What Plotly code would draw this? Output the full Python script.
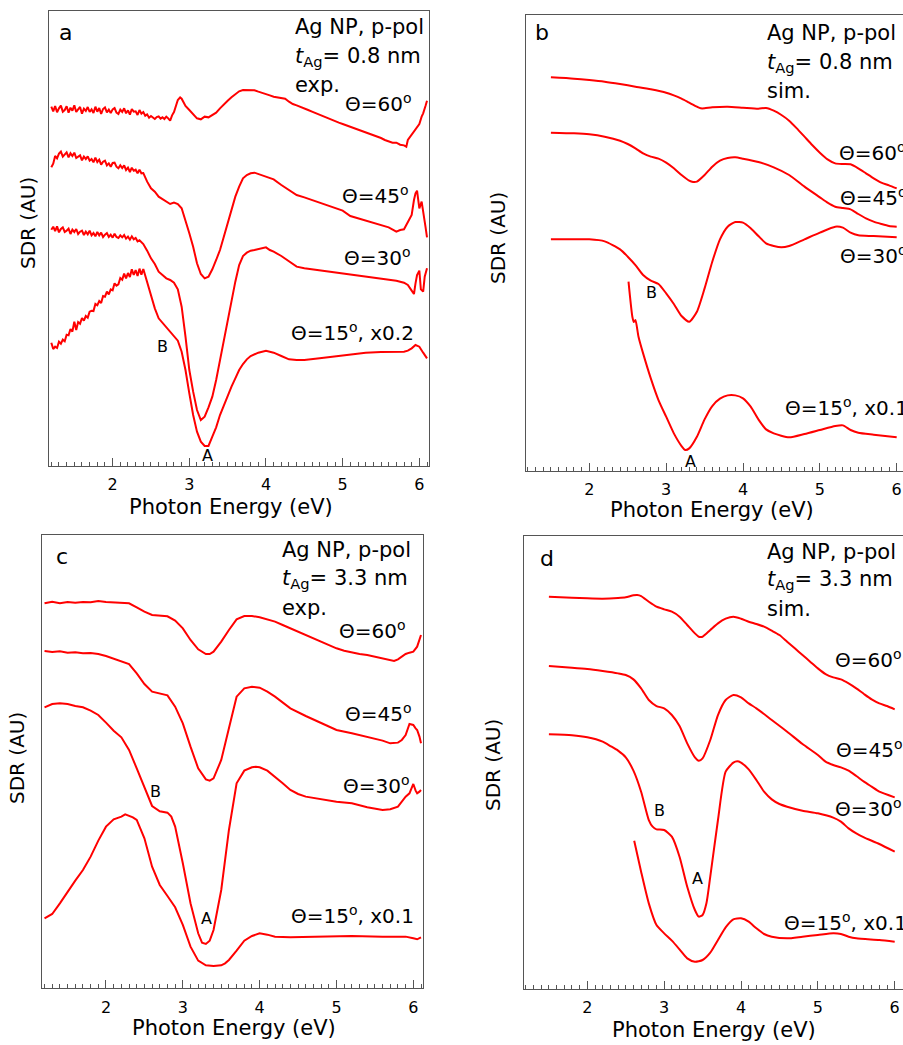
import plotly.graph_objects as go

W, H = 903, 1045
FONT = "DejaVu Sans"
RED = "#ff0000"
AXC = "#555555"

# ---------------- Panel a (exp., t=0.8 nm) ----------------
a60_E = [1.200,1.225,1.250,1.275,1.300,1.325,1.350,1.375,1.400,1.425,1.450,1.475,1.500,1.525,1.550,1.575,
         1.600,1.625,1.650,1.675,1.700,1.725,1.750,1.775,1.800,1.825,1.850,1.875,1.900,1.925,1.950,1.975,
         2.000,2.025,2.050,2.075,2.100,2.125,2.150,2.175,2.200,2.225,2.250,2.275,2.300,2.325,2.350,2.375,
         2.400,2.425,2.450,2.475,2.500,2.525,2.550,2.575,2.600,2.625,2.650,2.675,2.700,2.725,2.750,2.775,
         2.800,2.85,2.88,2.90,2.95,3.00,3.05,3.10,
         3.15,3.20,3.25,3.30,3.35,3.40,3.45,3.50,3.55,3.60,3.65,3.70,3.75,3.80,3.85,3.90,3.95,4.00,4.05,4.10,
         4.15,4.20,4.25,4.30,4.35,4.40,4.45,4.50,4.55,4.60,4.65,4.70,4.75,4.80,4.85,4.90,4.95,5.00,5.05,5.10,
         5.15,5.20,5.25,5.30,5.35,5.40,5.45,5.50,5.55,5.60,5.65,5.70,5.75,5.80,5.83,5.85,5.90,5.95,6.00,6.03,
         6.05,6.08,6.10]
a60_v = [1078,1064,1080,1061,1073,1081,1063,1068,1079,1060,1075,1066,1082,1062,1070,1077,
         1057,1072,1065,1077,1062,1070,1059,1078,1063,1074,1056,1071,1076,1061,1069,1059,
         1070,1074,1060,1056,1069,1062,1073,1058,1067,1054,1071,1063,1064,1053,1068,1057,
         1062,1051,1055,1045,1050,1044,1041,1047,1049,1042,1046,1041,1048,1043,1036,1052,
         1062,1098,1106,1102,1080,1068,1056,1043,
         1040,1048,1046,1053,1060,1073,1083,1096,1106,1116,1124,1128,1128,1126,1127,1123,1120,1116,1112,1108,
         1106,1106,1102,1093,1086,1082,1078,1073,1068,1063,1058,1053,1048,1043,1038,1034,1030,1026,1022,1018,
         1013,1008,1004,1000,996,992,988,984,978,974,970,970,964,962,958,978,993,1010,1026,1048,
         1058,1080,1096]

a45_E = [1.200,1.225,1.250,1.275,1.300,1.325,1.350,1.375,1.400,1.425,1.450,1.475,1.500,1.525,1.550,1.575,
         1.600,1.625,1.650,1.675,1.700,1.725,1.750,1.775,1.800,1.825,1.850,1.875,1.900,1.925,1.950,1.975,
         2.000,2.025,2.050,2.075,2.100,2.125,2.150,2.175,2.200,2.225,2.250,2.275,2.300,2.325,2.350,2.375,
         2.400,2.425,
         2.45,2.50,2.55,2.60,2.65,2.70,2.75,2.80,2.85,2.90,2.95,3.00,3.05,3.10,3.15,
         3.20,3.25,3.30,3.35,3.40,3.45,3.50,3.55,3.60,3.65,3.70,3.75,3.80,3.85,3.90,3.95,4.00,
         4.1,4.2,4.3,4.4,4.5,4.6,4.7,4.8,4.9,5.0,5.1,5.2,5.3,5.4,5.5,5.6,5.7,
         5.75,5.80,5.85,5.90,5.93,5.95,5.97,6.00,6.03,6.05,6.08,6.10]
a45_v = [896,907,930,923,937,943,928,933,941,926,938,930,940,924,929,932,
         917,928,921,929,916,921,911,925,912,919,904,913,916,902,908,898,
         909,910,898,893,902,894,902,888,895,882,895,886,889,878,889,878,
         879,865,
         853,833,823,808,800,793,786,790,786,773,738,698,658,608,576,
         563,568,590,618,648,688,728,768,808,838,863,873,878,880,876,873,870,
         860,843,828,813,806,798,790,780,773,766,750,743,736,728,722,716,703,
         708,710,730,753,798,818,826,773,793,768,718,686]

a30_E = [1.200,1.225,1.250,1.275,1.300,1.325,1.350,1.375,1.400,1.425,1.450,1.475,1.500,1.525,1.550,1.575,
         1.600,1.625,1.650,1.675,1.700,1.725,1.750,1.775,1.800,1.825,1.850,1.875,1.900,1.925,1.950,1.975,
         2.000,2.025,2.050,2.075,2.100,2.125,2.150,2.175,2.200,2.225,2.250,2.275,2.300,2.325,2.350,2.375,
         2.400,
         2.45,2.50,2.55,2.60,2.65,2.70,2.75,2.80,2.85,2.90,2.95,3.00,3.05,3.10,3.15,
         3.20,3.25,3.30,3.35,3.40,3.45,3.50,3.55,3.60,3.65,3.70,3.75,3.80,3.85,3.90,3.95,4.00,4.05,4.10,
         4.2,4.3,4.4,4.5,4.6,4.7,4.8,4.9,5.0,5.2,5.4,5.6,
         5.70,5.80,5.85,5.90,5.93,5.95,5.97,6.00,6.02,6.05,6.07,6.10]
a30_v = [709,718,705,719,701,711,716,702,706,712,696,709,702,711,696,703,
         706,693,703,695,706,692,699,689,702,692,700,687,694,699,687,694,
         685,697,687,684,692,686,693,682,688,679,689,680,684,674,677,671,
         666,
         646,623,606,583,573,563,558,550,530,478,388,288,223,168,138,
         148,176,208,258,318,378,443,503,553,603,630,640,646,648,650,653,656,648,643,
         630,613,598,593,590,586,583,580,576,572,566,560,
         556,550,543,526,516,548,573,586,530,523,568,593]

a15_E = [1.200,1.225,1.250,1.275,1.300,1.325,1.350,1.375,1.400,1.425,1.450,1.475,1.500,1.525,1.550,1.575,
         1.600,1.625,1.650,1.675,1.700,1.725,1.750,1.775,1.800,1.825,1.850,1.875,1.900,1.925,1.950,1.975,
         2.000,2.025,2.050,2.075,2.100,2.125,2.150,2.175,2.200,2.225,2.250,2.275,2.300,2.325,2.350,2.375,
         2.400,2.425,
         2.45,2.50,2.55,2.60,2.65,2.70,2.75,2.80,2.85,2.90,2.95,3.00,3.05,3.10,
         3.15,3.20,3.25,3.30,3.35,3.40,3.45,3.50,3.55,3.60,3.65,3.70,3.75,3.80,
         3.9,4.0,4.1,4.2,4.3,4.4,4.5,4.7,4.9,5.1,5.3,5.5,5.7,
         5.80,5.85,5.90,5.95,6.00,6.05,6.10]
a15_v = [370,351,358,354,373,367,379,374,394,392,411,403,433,408,432,427,
         444,436,450,445,463,466,465,486,482,495,489,510,508,523,515,530,
         527,548,541,545,564,559,577,563,579,567,590,573,588,570,592,574,
         591,571,
         548,508,473,443,430,416,403,390,376,343,288,218,153,103,
         73,60,60,88,116,153,183,213,238,263,288,306,320,330,
         340,346,340,330,320,318,318,323,328,333,340,342,343,
         343,346,353,363,358,340,323]

# ---------------- Panel b (sim., t=0.8 nm) ----------------
b60_E = [1.5,1.8,2.0,2.2,2.4,2.6,2.8,3.0,3.1,3.2,3.3,3.4,3.45,3.5,3.6,3.8,4.0,4.2,4.3,4.4,4.5,4.6,4.7,4.8,
         4.9,5.0,5.1,5.2,5.3,5.4,5.5,5.6,5.7,5.8,5.9,6.0]
b60_v = [1180,1176,1172,1167,1160,1152,1144,1134,1126,1116,1104,1092,1087,1087,1090,1092,1089,1086,1088,1080,
         1067,1050,1027,1002,977,954,934,922,920,919,907,892,877,864,856,847]
b45_E = [1.5,1.8,2.0,2.2,2.4,2.5,2.6,2.7,2.8,2.9,3.0,3.1,3.2,3.3,3.35,3.4,3.5,3.6,3.7,3.8,3.9,4.0,4.2,4.4,
         4.6,4.8,5.0,5.1,5.2,5.3,5.4,5.5,5.6,5.7,5.8,5.9,6.0]
b45_v = [1014,1012,1009,1002,990,980,967,952,942,936,924,907,887,870,866,867,887,912,930,938,940,936,926,910,
         887,852,820,804,792,788,784,770,757,747,740,734,732]
b30_E = [1.5,1.8,2.0,2.2,2.4,2.5,2.6,2.7,2.8,2.9,3.0,3.1,3.2,3.3,3.4,3.5,3.6,3.7,3.8,3.9,4.0,4.1,4.2,4.3,
         4.4,4.5,4.6,4.8,5.0,5.2,5.3,5.4,5.5,5.7,6.0]
b30_v = [694,694,694,688,664,642,617,587,570,560,532,500,464,447,477,547,627,694,732,746,744,727,704,682,
         674,670,674,694,714,732,729,714,706,704,700]
b15_E = [2.51,2.56,2.58,2.60,2.64,2.7,2.8,2.9,3.0,3.1,3.2,3.25,3.3,3.4,3.5,3.6,3.7,3.8,3.9,4.0,4.1,4.2,4.3,
         4.4,4.6,4.8,5.0,5.2,5.3,5.4,5.5,5.7,6.0]
b15_v = [567,462,446,452,402,352,277,212,162,112,74,62,67,102,154,194,216,226,226,217,192,154,124,
         112,100,110,122,134,136,122,114,108,100]

# ---------------- Panel c (exp., t=3.3 nm) ----------------
c60_E = [1.2,1.3,1.4,1.5,1.6,1.7,1.8,1.9,2.0,2.1,2.2,2.3,2.4,2.5,2.6,2.7,2.8,2.9,3.0,3.1,3.2,3.3,3.35,
         3.4,3.5,3.6,3.7,3.8,3.9,4.0,4.1,4.2,4.3,4.4,4.5,4.6,4.7,4.8,4.9,5.0,5.1,5.2,5.3,5.4,5.5,5.6,5.7,
         5.75,5.8,5.85,5.9,5.95,6.0,6.05,6.08,6.1]
c60_v = [1155,1160,1155,1159,1157,1159,1158,1162,1159,1157,1156,1155,1143,1130,1120,1118,1116,1103,1080,1045,
         1017,1003,1003,
         1010,1040,1075,1107,1117,1117,1113,1107,1100,1090,1080,1070,1060,1050,1040,1030,1020,1013,1007,1003,
         1000,995,989,985,
         982,987,995,1003,1007,1010,1025,1047,1060]
c45_E = [1.2,1.3,1.4,1.5,1.6,1.7,1.8,1.9,2.0,2.1,2.2,2.3,2.4,2.5,2.6,2.7,2.8,2.9,3.0,3.1,3.2,3.3,3.35,
         3.4,3.5,3.6,3.7,3.8,3.9,4.0,4.1,4.2,4.3,4.4,
         4.6,4.8,5.0,5.2,5.4,5.6,5.7,5.8,5.85,5.9,5.95,6.0,6.03,6.05,6.08,6.1]
c45_v = [1012,1009,1011,1007,1008,1005,1006,1003,997,989,983,973,945,913,890,885,879,845,795,725,660,627,623,
         630,685,780,875,900,905,902,890,875,857,840,
         817,795,775,765,755,743,735,737,745,760,793,790,780,775,755,735]
c30_E = [1.2,1.3,1.4,1.5,1.6,1.7,1.8,1.9,2.0,2.1,2.2,2.3,2.4,2.5,2.6,2.7,2.8,2.85,2.9,3.0,3.1,3.2,3.25,
         3.3,3.35,3.4,3.5,3.6,3.7,3.8,3.9,3.95,4.0,4.1,4.2,4.3,4.4,4.5,4.6,4.8,5.0,5.2,5.4,5.6,5.7,5.8,
         5.85,5.9,5.95,6.0,6.03,6.05,6.08,6.1]
c30_v = [843,853,855,853,847,843,833,820,797,773,753,715,660,605,547,531,527,515,485,375,255,165,137,
         133,143,175,295,475,615,653,663,665,663,653,635,615,595,583,575,567,560,555,543,535,537,545,
         560,575,585,613,593,585,590,595]
c15_E = [1.2,1.3,1.4,1.5,1.6,1.7,1.8,1.9,2.0,2.1,2.2,2.25,2.3,2.35,2.4,2.5,2.6,2.7,2.8,2.9,3.0,3.1,3.2,3.3,
         3.4,3.5,3.55,3.6,3.7,3.8,3.9,4.0,4.1,4.2,4.4,4.8,5.2,5.6,5.9,6.0,6.05,6.1]
c15_v = [210,223,255,290,323,355,395,443,485,507,515,522,517,513,505,450,365,310,277,243,190,125,83,69,
         67,69,75,85,113,143,157,165,161,155,153,154,157,155,155,150,147,153]

# ---------------- Panel d (sim., t=3.3 nm) ----------------
d60_E = [1.5,1.8,2.0,2.2,2.4,2.5,2.6,2.65,2.7,2.8,2.9,3.0,3.1,3.2,3.3,3.4,3.45,3.5,3.6,3.7,3.8,3.9,4.0,
         4.1,4.2,4.3,4.4,4.5,4.6,4.7,4.8,4.9,5.0,5.1,5.2,5.3,5.4,5.5,5.6,5.7,5.8,5.9,6.0]
d60_v = [1177,1174,1172,1171,1173,1175,1181,1182,1179,1162,1147,1139,1132,1117,1092,1067,1057,1057,1077,1097,
         1111,1117,1111,1102,1095,1087,1075,1062,1042,1022,1002,982,962,945,935,929,917,902,885,869,857,849,839]
d45_E = [1.5,1.8,2.0,2.2,2.4,2.5,2.6,2.7,2.8,2.9,3.0,3.1,3.2,3.3,3.4,3.45,3.5,3.6,3.7,3.8,3.9,4.0,4.1,
         4.2,4.4,4.6,4.8,5.0,5.1,5.2,5.3,5.4,5.5,5.6,5.7,5.8,6.0]
d45_v = [969,964,960,954,947,942,929,902,867,849,842,822,789,737,695,685,692,747,822,867,882,875,857,
         842,807,772,735,702,682,672,665,655,639,622,607,592,575]
d30_E = [1.5,1.8,2.0,2.2,2.3,2.4,2.5,2.6,2.7,2.8,2.85,2.9,3.0,3.1,3.2,3.3,3.4,3.45,3.5,3.55,3.6,3.7,3.8,
         3.9,3.95,4.0,4.1,4.2,4.3,4.4,4.5,4.6,4.8,5.0,5.2,5.3,5.4,5.5,5.6,5.8,6.0]
d30_v = [764,761,755,742,729,715,695,655,592,507,487,479,477,457,397,307,237,217,222,257,337,507,652,
         679,683,679,659,627,592,569,555,547,535,527,514,502,482,467,455,435,412]
d15_E = [2.61,2.7,2.8,2.9,3.0,3.1,3.2,3.3,3.4,3.5,3.6,3.7,3.8,3.9,4.0,4.1,4.2,4.3,4.4,4.6,4.8,5.0,5.2,
         5.3,5.4,5.5,5.8,6.0]
d15_v = [445,352,257,192,167,145,119,92,82,87,109,147,185,209,212,202,182,165,157,152,157,162,167,
         165,157,152,147,142]

x_ticks = [2, 3, 4, 5, 6]

panels = [
    dict(name="a", curves=[(a60_E, a60_v), (a45_E, a45_v), (a30_E, a30_v), (a15_E, a15_v)],
         box=(48.7, 429.0, 11.0, 466.0), xr=[1.166, 6.126], yr=[0, 1365], smooth=False, closed=True),
    dict(name="b", curves=[(b60_E, b60_v), (b45_E, b45_v), (b30_E, b30_v), (b15_E, b15_v)],
         box=(526.0, 903.0, 15.0, 470.7), xr=[1.176, 6.082], yr=[0, 1367], smooth=True, closed=False),
    dict(name="c", curves=[(c60_E, c60_v), (c45_E, c45_v), (c30_E, c30_v), (c15_E, c15_v)],
         box=(42.3, 423.3, 535.0, 988.3), xr=[1.171, 6.130], yr=[0, 1360], smooth=False, closed=True),
    dict(name="d", curves=[(d60_E, d60_v), (d45_E, d45_v), (d30_E, d30_v), (d15_E, d15_v)],
         box=(524.0, 903.0, 535.7, 989.0), xr=[1.176, 6.108], yr=[0, 1360], smooth=True, closed=False),
]

fig = go.Figure()
layout = {}
for i, p in enumerate(panels):
    n = "" if i == 0 else str(i + 1)
    x0, x1, y0, y1 = p["box"]
    for E, v in p["curves"]:
        assert len(E) == len(v), (p["name"], len(E), len(v))
        fig.add_trace(go.Scatter(
            x=E, y=v, mode="lines", xaxis="x" + n, yaxis="y" + n,
            line=dict(color=RED, width=2, shape="spline" if p["smooth"] else "linear",
                      smoothing=0.6),
            showlegend=False, hoverinfo="skip"))
    layout["xaxis" + n] = dict(
        domain=[x0 / W, x1 / W], range=p["xr"], anchor="y" + n,
        showline=True, linecolor=AXC, linewidth=1, mirror=True,
        ticks="inside", ticklen=8, tickwidth=1, tickcolor=AXC,
        tickvals=x_ticks, ticktext=[str(t) for t in x_ticks],
        minor=dict(ticks="inside", ticklen=4, tickwidth=1, tickcolor=AXC, dtick=0.1, tick0=0,
                   showgrid=False),
        showgrid=False, zeroline=False,
        tickfont=dict(family=FONT, size=16, color="black"),
        ticklabelstandoff=4,
    )
    layout["yaxis" + n] = dict(
        domain=[1 - y1 / H, 1 - y0 / H], range=p["yr"], anchor="x" + n,
        showline=True, linecolor=AXC, linewidth=1, mirror=p["closed"],
        ticks="", showticklabels=False, showgrid=False, zeroline=False,
    )


def ann(text, x, y, size=20, xanchor="left", angle=0):
    return dict(text=text, x=x / W, y=1 - y / H, xref="paper", yref="paper",
                xanchor=xanchor, yanchor="middle", showarrow=False, textangle=angle,
                font=dict(family=FONT, size=size, color="black"))


deg = "<sup>o</sup>"
annotations = []
texts = [
    # panel a
    ("a", 65, 32, 22, "center"),
    ("Ag NP, p-pol", 292.7, 27, 21, "left"),
    ("<i>t</i><sub>Ag</sub>= 0.8 nm", 292.7, 57, 21, "left"),
    ("exp.", 292.7, 85, 21, "left"),
    ("Θ=60" + deg, 343, 103, 20, "left"),
    ("Θ=45" + deg, 340, 195, 20, "left"),
    ("Θ=30" + deg, 342, 257, 20, "left"),
    ("Θ=15" + deg + ", x0.2", 289, 332, 20, "left"),
    ("B", 162, 346, 16, "center"),
    ("A", 207, 456, 16, "center"),
    ("Photon Energy (eV)", 231, 507, 21, "center"),
    # panel b
    ("b", 541.7, 33, 22, "center"),
    ("Ag NP, p-pol", 765, 33, 21, "left"),
    ("<i>t</i><sub>Ag</sub>= 0.8 nm", 765, 63, 21, "left"),
    ("sim.", 765, 91, 21, "left"),
    ("Θ=60" + deg, 836.7, 152, 20, "left"),
    ("Θ=45" + deg, 838, 197, 20, "left"),
    ("Θ=30" + deg, 838, 255, 20, "left"),
    ("Θ=15" + deg + ", x0.1", 783, 407, 20, "left"),
    ("B", 651, 292, 16, "center"),
    ("A", 690, 461, 16, "center"),
    ("Photon Energy (eV)", 711.7, 510, 21, "center"),
    # panel c
    ("c", 61.7, 556.7, 22, "center"),
    ("Ag NP, p-pol", 280, 550, 21, "left"),
    ("<i>t</i><sub>Ag</sub>= 3.3 nm", 280, 579, 21, "left"),
    ("exp.", 280, 608, 21, "left"),
    ("Θ=60" + deg, 337, 630, 20, "left"),
    ("Θ=45" + deg, 343, 713, 20, "left"),
    ("Θ=30" + deg, 341, 785, 20, "left"),
    ("Θ=15" + deg + ", x0.1", 289, 915, 20, "left"),
    ("B", 155, 791.7, 16, "center"),
    ("A", 206.7, 918, 16, "center"),
    ("Photon Energy (eV)", 234, 1028, 21, "center"),
    # panel d
    ("d", 546.7, 558, 22, "center"),
    ("Ag NP, p-pol", 765, 551.7, 21, "left"),
    ("<i>t</i><sub>Ag</sub>= 3.3 nm", 765, 580, 21, "left"),
    ("sim.", 765, 609, 21, "left"),
    ("Θ=60" + deg, 832.7, 659, 20, "left"),
    ("Θ=45" + deg, 834, 749, 20, "left"),
    ("Θ=30" + deg, 832.7, 808, 20, "left"),
    ("Θ=15" + deg + ", x0.1", 781.7, 921.7, 20, "left"),
    ("B", 659, 810, 16, "center"),
    ("A", 697, 878, 16, "center"),
    ("Photon Energy (eV)", 714, 1030, 21, "center"),
]
for t, x, y, s, xa in texts:
    annotations.append(ann(t, x, y, s, xa))
for x, y in [(28, 223), (498, 238), (17, 758), (493, 765)]:
    annotations.append(ann("SDR (AU)", x, y, 20, "center", angle=-90))

fig.update_layout(
    width=W, height=H, margin=dict(l=0, r=0, t=0, b=0),
    paper_bgcolor="white", plot_bgcolor="white",
    font=dict(family=FONT, color="black"),
    annotations=annotations, **layout,
)

fig.write_html("out.html")
